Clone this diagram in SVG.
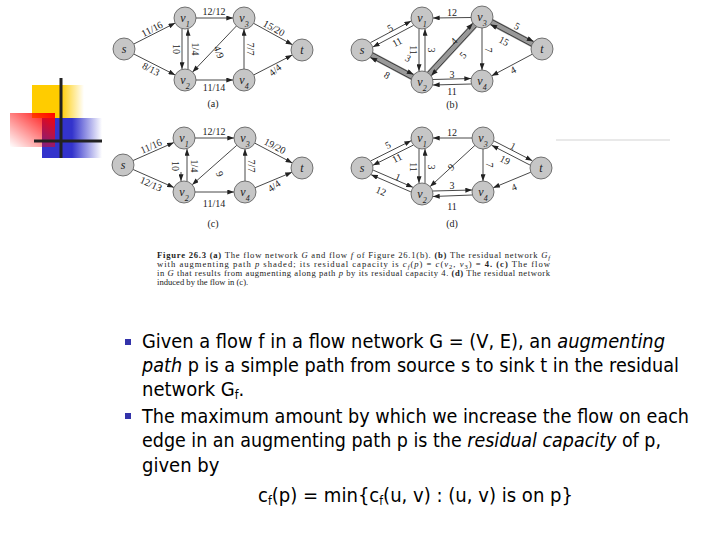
<svg xmlns="http://www.w3.org/2000/svg" width="720" height="540" viewBox="0 0 720 540">
<style>
.nd{fill:#c6c6c6;stroke:#555;stroke-width:0.8}
.nl{font-family:"Liberation Serif",serif;font-style:italic;font-size:12px;fill:#222;text-anchor:middle}
.e{stroke:#333;stroke-width:0.9;fill:none;marker-end:url(#ah)}
.lb{font-family:"Liberation Serif",serif;font-size:10px;fill:#222;text-anchor:middle;dominant-baseline:central}
.sub{font-size:8px}
.cap{font-family:"Liberation Serif",serif;font-size:8.6px;fill:#222}
.body{font-family:"DejaVu Sans Condensed","Liberation Sans",sans-serif;font-size:20px;fill:#000}
.band{stroke:#999;stroke-width:7;fill:none;stroke-linejoin:round}
</style>
<defs>
<marker id="ah" viewBox="0 0 8 6" refX="8" refY="3" markerWidth="7" markerHeight="5" markerUnits="userSpaceOnUse" orient="auto"><path d="M0,0 L8,3 L0,6 z" fill="#222"/></marker>
<linearGradient id="gy" x1="0" y1="0" x2="1" y2="0"><stop offset="0.55" stop-color="#FFCC00"/><stop offset="1" stop-color="#FFCC00" stop-opacity="0"/></linearGradient>
<linearGradient id="gb" x1="0" y1="0" x2="1" y2="0"><stop offset="0.5" stop-color="#3333CC"/><stop offset="1" stop-color="#3333CC" stop-opacity="0"/></linearGradient>
<linearGradient id="gr" x1="1" y1="0" x2="0" y2="1"><stop offset="0" stop-color="#FF0000"/><stop offset="1" stop-color="#FF0000" stop-opacity="0"/></linearGradient>
</defs>

<!-- decoration -->
<g id="deco">
<rect x="32" y="85" width="52" height="33" fill="url(#gy)"/>
<rect x="42" y="118" width="60" height="40" fill="url(#gb)"/>
<rect x="10" y="113" width="45" height="34" fill="url(#gr)"/>
<line x1="61" y1="78" x2="61" y2="158" stroke="#222" stroke-width="3"/>
<line x1="34" y1="141" x2="102" y2="141" stroke="#222" stroke-width="3"/>
<line x1="556" y1="140" x2="670" y2="140" stroke="#e2e2e2" stroke-width="1.5"/>
</g>

<!-- (b) shaded augmenting path -->
<path class="band" d="M362,50 L422,82 L482,17 L542,49"/>

<g id="connectors">
<!-- (a) -->
<line class="e" x1="133.8" y1="44" x2="175.2" y2="23"/>
<line class="e" x1="133.8" y1="54" x2="175.2" y2="75"/>
<line class="e" x1="196" y1="18" x2="233" y2="18"/>
<line class="e" x1="182" y1="29" x2="182" y2="69"/>
<line class="e" x1="188" y1="69" x2="188" y2="29"/>
<line class="e" x1="236.4" y1="26" x2="192.6" y2="72"/>
<line class="e" x1="196" y1="80" x2="233" y2="80"/>
<line class="e" x1="244" y1="69" x2="244" y2="29" stroke="#777"/>
<line class="e" x1="253.6" y1="23.3" x2="292.4" y2="44.7"/>
<line class="e" x1="253.8" y1="74.9" x2="292.2" y2="55.1"/>
<!-- (b) -->
<line class="e" x1="370.5" y1="42.6" x2="411.1" y2="21"/>
<line class="e" x1="413.5" y1="25.4" x2="372.9" y2="47"/>
<line class="e" x1="372.9" y1="53" x2="413.5" y2="74.6"/>
<line class="e" x1="411.1" y1="79" x2="370.5" y2="57.4"/>
<line class="e" x1="471" y1="17.5" x2="433" y2="18"/>
<line class="e" x1="419" y1="29" x2="419" y2="71"/>
<line class="e" x1="425" y1="71" x2="425" y2="29"/>
<line class="e" x1="427.7" y1="72.2" x2="472.7" y2="23.4"/>
<line class="e" x1="476.3" y1="26.8" x2="431.3" y2="75.6"/>
<line class="e" x1="433" y1="79.5" x2="471" y2="78.5"/>
<line class="e" x1="471" y1="84" x2="433" y2="85" stroke="#777"/>
<line class="e" x1="482" y1="28" x2="482" y2="70"/>
<line class="e" x1="492.9" y1="20" x2="533.5" y2="41.6"/>
<line class="e" x1="531.1" y1="46" x2="490.5" y2="24.4"/>
<line class="e" x1="532.3" y1="54.2" x2="491.7" y2="75.8"/>
<!-- (c) -->
<line class="e" x1="133.1" y1="160.5" x2="173.9" y2="142.5"/>
<line class="e" x1="133.1" y1="169.5" x2="173.9" y2="187.5"/>
<line class="e" x1="195" y1="138" x2="234" y2="138"/>
<line class="e" x1="181" y1="172" x2="181" y2="181" stroke="#bbb"/>
<line class="e" x1="187" y1="181" x2="187" y2="149"/>
<line class="e" x1="236.8" y1="145.3" x2="192.2" y2="184.7"/>
<line class="e" x1="195" y1="192" x2="234" y2="192"/>
<line class="e" x1="245" y1="181" x2="245" y2="149"/>
<line class="e" x1="254.7" y1="143.1" x2="292.3" y2="162.9"/>
<line class="e" x1="255.1" y1="187.7" x2="291.9" y2="172.3"/>
<!-- (d) -->
<line class="e" x1="370.7" y1="160.9" x2="411.1" y2="140.7"/>
<line class="e" x1="413.3" y1="145.1" x2="372.9" y2="165.3"/>
<line class="e" x1="373.1" y1="170.1" x2="412.9" y2="187.3"/>
<line class="e" x1="410.9" y1="191.9" x2="371.1" y2="174.7"/>
<line class="e" x1="472" y1="138" x2="433" y2="138"/>
<line class="e" x1="419" y1="149" x2="419" y2="183"/>
<line class="e" x1="425" y1="183" x2="425" y2="149"/>
<line class="e" x1="474.9" y1="145.4" x2="430.1" y2="186.6"/>
<line class="e" x1="433" y1="191" x2="472" y2="190"/>
<line class="e" x1="472" y1="195" x2="433" y2="196.5"/>
<line class="e" x1="483" y1="149" x2="483" y2="181"/>
<line class="e" x1="493.9" y1="140.9" x2="532.3" y2="160.7"/>
<line class="e" x1="530.1" y1="165.1" x2="491.7" y2="145.3"/>
<line class="e" x1="530.8" y1="172.2" x2="493.2" y2="187.8"/>
</g>

<g id="edge-labels">
<!-- (a) -->
<text class="lb" x="152" y="29" transform="rotate(-27 152 29)">11/16</text>
<text class="lb" x="151" y="69" transform="rotate(27 151 69)">8/13</text>
<text class="lb" x="214" y="11">12/12</text>
<text class="lb" x="176" y="49" transform="rotate(90 176 49)">10</text>
<text class="lb" x="195" y="49" transform="rotate(90 195 49)">1/4</text>
<text class="lb" x="219" y="52" transform="rotate(70 219 52)">4/9</text>
<text class="lb" x="214" y="87">11/14</text>
<text class="lb" x="250" y="49" transform="rotate(90 250 49)">7/7</text>
<text class="lb" x="274" y="28" transform="rotate(29 274 28)">15/20</text>
<text class="lb" x="275" y="70" transform="rotate(-40 275 70)">4/4</text>
<text class="lb" x="213" y="103">(a)</text>
<!-- (b) -->
<text class="lb" x="390" y="28" transform="rotate(-28 390 28)">5</text>
<text class="lb" x="397" y="42" transform="rotate(-28 397 42)">11</text>
<text class="lb" x="452" y="12">12</text>
<text class="lb" x="413" y="50" transform="rotate(90 413 50)">11</text>
<text class="lb" x="431" y="50" transform="rotate(90 431 50)">3</text>
<text class="lb" x="408" y="58" transform="rotate(28 408 58)">3</text>
<text class="lb" x="387" y="75" transform="rotate(28 387 75)">8</text>
<text class="lb" x="454" y="41" transform="rotate(-47 454 41)">4</text>
<text class="lb" x="463" y="55" transform="rotate(-47 463 55)">5</text>
<text class="lb" x="452" y="74">3</text>
<text class="lb" x="452" y="91">11</text>
<text class="lb" x="488" y="50" transform="rotate(90 488 50)">7</text>
<text class="lb" x="517" y="26" transform="rotate(28 517 26)">5</text>
<text class="lb" x="504" y="41" transform="rotate(28 504 41)">15</text>
<text class="lb" x="513" y="70" transform="rotate(-28 513 70)">4</text>
<text class="lb" x="452" y="104">(b)</text>
<!-- (c) -->
<text class="lb" x="151" y="146" transform="rotate(-24 151 146)">11/16</text>
<text class="lb" x="151" y="184" transform="rotate(24 151 184)">12/13</text>
<text class="lb" x="214" y="131">12/12</text>
<text class="lb" x="175" y="166" transform="rotate(90 175 166)">10</text>
<text class="lb" x="194" y="166" transform="rotate(90 194 166)">1/4</text>
<text class="lb" x="220" y="174" transform="rotate(70 220 174)">9</text>
<text class="lb" x="214" y="203">11/14</text>
<text class="lb" x="251" y="166" transform="rotate(90 251 166)">7/7</text>
<text class="lb" x="275" y="146" transform="rotate(28 275 146)">19/20</text>
<text class="lb" x="274" y="186" transform="rotate(-35 274 186)">4/4</text>
<text class="lb" x="213" y="223">(c)</text>
<!-- (d) -->
<text class="lb" x="388" y="145" transform="rotate(-27 388 145)">5</text>
<text class="lb" x="397" y="158" transform="rotate(-27 397 158)">11</text>
<text class="lb" x="398" y="177" transform="rotate(23 398 177)">1</text>
<text class="lb" x="381" y="191" transform="rotate(23 381 191)">12</text>
<text class="lb" x="452" y="132">12</text>
<text class="lb" x="413" y="167" transform="rotate(90 413 167)">11</text>
<text class="lb" x="431" y="167" transform="rotate(90 431 167)">3</text>
<text class="lb" x="451" y="167" transform="rotate(-42 451 167)">9</text>
<text class="lb" x="452" y="185">3</text>
<text class="lb" x="452" y="206">11</text>
<text class="lb" x="489" y="165" transform="rotate(90 489 165)">7</text>
<text class="lb" x="513" y="146" transform="rotate(27 513 146)">1</text>
<text class="lb" x="505" y="160" transform="rotate(27 505 160)">19</text>
<text class="lb" x="514" y="187" transform="rotate(-22 514 187)">4</text>
<text class="lb" x="452" y="223">(d)</text>
</g>

<!-- nodes (a) -->
<g id="a-s"><circle class="nd" cx="124" cy="49" r="11"/><text class="nl" x="124" y="53">s</text></g>
<g id="a-v1"><circle class="nd" cx="185" cy="18" r="11"/><text class="nl" x="185" y="22">v<tspan class="sub" baseline-shift="sub">1</tspan></text></g>
<g id="a-v2"><circle class="nd" cx="185" cy="80" r="11"/><text class="nl" x="185" y="84">v<tspan class="sub" baseline-shift="sub">2</tspan></text></g>
<g id="a-v3"><circle class="nd" cx="244" cy="18" r="11"/><text class="nl" x="244" y="22">v<tspan class="sub" baseline-shift="sub">3</tspan></text></g>
<g id="a-v4"><circle class="nd" cx="244" cy="80" r="11"/><text class="nl" x="244" y="84">v<tspan class="sub" baseline-shift="sub">4</tspan></text></g>
<g id="a-t"><circle class="nd" cx="302" cy="50" r="11"/><text class="nl" x="302" y="54">t</text></g>
<!-- nodes (b) -->
<g id="b-s"><circle class="nd" cx="362" cy="50" r="11"/><text class="nl" x="362" y="54">s</text></g>
<g id="b-v1"><circle class="nd" cx="422" cy="18" r="11"/><text class="nl" x="422" y="22">v<tspan class="sub" baseline-shift="sub">1</tspan></text></g>
<g id="b-v2"><circle class="nd" cx="422" cy="82" r="11"/><text class="nl" x="422" y="86">v<tspan class="sub" baseline-shift="sub">2</tspan></text></g>
<g id="b-v3"><circle class="nd" cx="482" cy="17" r="11"/><text class="nl" x="482" y="21">v<tspan class="sub" baseline-shift="sub">3</tspan></text></g>
<g id="b-v4"><circle class="nd" cx="482" cy="81" r="11"/><text class="nl" x="482" y="85">v<tspan class="sub" baseline-shift="sub">4</tspan></text></g>
<g id="b-t"><circle class="nd" cx="542" cy="49" r="11"/><text class="nl" x="542" y="53">t</text></g>
<!-- nodes (c) -->
<g id="c-s"><circle class="nd" cx="123" cy="165" r="11"/><text class="nl" x="123" y="169">s</text></g>
<g id="c-v1"><circle class="nd" cx="184" cy="138" r="11"/><text class="nl" x="184" y="142">v<tspan class="sub" baseline-shift="sub">1</tspan></text></g>
<g id="c-v2"><circle class="nd" cx="184" cy="192" r="11"/><text class="nl" x="184" y="196">v<tspan class="sub" baseline-shift="sub">2</tspan></text></g>
<g id="c-v3"><circle class="nd" cx="245" cy="138" r="11"/><text class="nl" x="245" y="142">v<tspan class="sub" baseline-shift="sub">3</tspan></text></g>
<g id="c-v4"><circle class="nd" cx="245" cy="192" r="11"/><text class="nl" x="245" y="196">v<tspan class="sub" baseline-shift="sub">4</tspan></text></g>
<g id="c-t"><circle class="nd" cx="302" cy="168" r="11"/><text class="nl" x="302" y="172">t</text></g>
<!-- nodes (d) -->
<g id="d-s"><circle class="nd" cx="362" cy="168" r="11"/><text class="nl" x="362" y="172">s</text></g>
<g id="d-v1"><circle class="nd" cx="422" cy="138" r="11"/><text class="nl" x="422" y="142">v<tspan class="sub" baseline-shift="sub">1</tspan></text></g>
<g id="d-v2"><circle class="nd" cx="422" cy="194" r="11"/><text class="nl" x="422" y="198">v<tspan class="sub" baseline-shift="sub">2</tspan></text></g>
<g id="d-v3"><circle class="nd" cx="483" cy="138" r="11"/><text class="nl" x="483" y="142">v<tspan class="sub" baseline-shift="sub">3</tspan></text></g>
<g id="d-v4"><circle class="nd" cx="483" cy="192" r="11"/><text class="nl" x="483" y="196">v<tspan class="sub" baseline-shift="sub">4</tspan></text></g>
<g id="d-t"><circle class="nd" cx="541" cy="168" r="11"/><text class="nl" x="541" y="172">t</text></g>

<!-- caption -->
<g id="caption" class="cap">
<text x="157" y="258" textLength="393" lengthAdjust="spacing"><tspan font-weight="bold">Figure 26.3</tspan>   <tspan font-weight="bold">(a)</tspan> The flow network <tspan font-style="italic">G</tspan> and flow <tspan font-style="italic">f</tspan> of Figure 26.1(b). <tspan font-weight="bold">(b)</tspan> The residual network <tspan font-style="italic">G</tspan><tspan font-style="italic" font-size="6.5" baseline-shift="-1.5">f</tspan></text>
<text x="157" y="267" textLength="393" lengthAdjust="spacing">with augmenting path <tspan font-style="italic">p</tspan> shaded; its residual capacity is <tspan font-style="italic">c</tspan><tspan font-style="italic" font-size="6.5" baseline-shift="-1.5">f</tspan>(<tspan font-style="italic">p</tspan>) = <tspan font-style="italic">c</tspan>(<tspan font-style="italic">v</tspan><tspan font-size="6.5" baseline-shift="-1.5">2</tspan>, <tspan font-style="italic">v</tspan><tspan font-size="6.5" baseline-shift="-1.5">3</tspan>) = <tspan font-weight="bold">4.</tspan> <tspan font-weight="bold">(c)</tspan> The flow</text>
<text x="157" y="276" textLength="393" lengthAdjust="spacing">in <tspan font-style="italic">G</tspan> that results from augmenting along path <tspan font-style="italic">p</tspan> by its residual capacity 4. <tspan font-weight="bold">(d)</tspan> The residual network</text>
<text x="157" y="285">induced by the flow in (c).</text>
</g>

<!-- bullets -->
<g id="bullets">
<rect x="125" y="339" width="6" height="6" fill="#3333AA"/>
<rect x="125" y="413" width="6" height="6" fill="#3333AA"/>
<text class="body" x="142" y="348" textLength="523" lengthAdjust="spacingAndGlyphs">Given a flow f in a flow network G = (V, E), an <tspan font-style="italic">augmenting</tspan></text>
<text class="body" x="142" y="372" textLength="537" lengthAdjust="spacingAndGlyphs"><tspan font-style="italic">path</tspan> p is a simple path from source s to sink t in the residual</text>
<text class="body" x="142" y="396">network G<tspan font-size="12" baseline-shift="-3">f</tspan>.</text>
<text class="body" x="142" y="423" textLength="547" lengthAdjust="spacingAndGlyphs">The maximum amount by which we increase the flow on each</text>
<text class="body" x="142" y="447" textLength="519" lengthAdjust="spacingAndGlyphs">edge in an augmenting path p is the <tspan font-style="italic">residual capacity</tspan> of p,</text>
<text class="body" x="142" y="472">given by</text>
<text class="body" x="258" y="502" textLength="315" lengthAdjust="spacingAndGlyphs">c<tspan font-size="12" baseline-shift="-3">f</tspan>(p) = min{c<tspan font-size="12" baseline-shift="-3">f</tspan>(u, v) : (u, v) is on p}</text>
</g>
</svg>
